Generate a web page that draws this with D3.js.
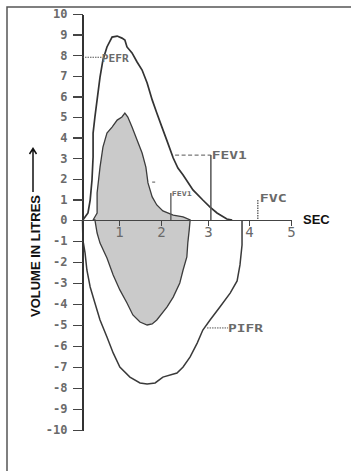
<!DOCTYPE html>
<html>
<head>
<meta charset="utf-8">
<script src="https://cdn.jsdelivr.net/npm/d3@7"></script>
<style>
  body { margin: 0; background: #fff; }
  svg { display: block; }
  .num { font-family: "DejaVu Sans Mono", monospace; fill: #6a6a6a; }
  .tag { font-family: "DejaVu Sans Mono", monospace; font-weight: bold; fill: #6a6a6a; }
</style>
</head>
<body>
<svg id="chart" width="351" height="471"></svg>
<script>
// time in seconds, volume in litres
var outerExpT = [0.01, 0.15, 0.21, 0.26, 0.29, 0.29, 0.34, 0.40, 0.48, 0.56, 0.67, 0.81, 0.95, 1.07, 1.14, 1.19, 1.31, 1.43, 1.55, 1.67, 1.79, 1.90, 2.02, 2.13, 2.26, 2.36, 2.47, 2.68, 2.89, 3.05, 3.22, 3.46, 3.59];
var outerExpV = [0, 0.34, 0.97, 1.94, 3.06, 4.22, 5.0, 5.83, 6.94, 7.77, 8.40, 8.88, 8.93, 8.83, 8.74, 8.40, 8.11, 7.67, 7.28, 6.65, 5.83, 5.19, 4.51, 3.83, 3.01, 2.52, 2.18, 1.46, 0.97, 0.63, 0.34, 0.05, 0];

var outerInsT = [0, 0.01, 0.07, 0.12, 0.21, 0.34, 0.48, 0.67, 0.84, 1.02, 1.26, 1.50, 1.67, 1.86, 2.04, 2.34, 2.47, 2.62, 2.77, 2.89, 3.05, 3.29, 3.54, 3.71, 3.78, 3.83, 3.83, 3.83];
var outerInsV = [0, -0.95, -1.57, -2.38, -3.19, -3.95, -4.76, -5.57, -6.33, -7.0, -7.48, -7.76, -7.81, -7.76, -7.48, -7.29, -7.0, -6.52, -5.86, -5.24, -4.76, -4.14, -3.48, -2.90, -2.14, -1.19, -0.1, 0];

var innerExpT = [0.29, 0.40, 0.40, 0.48, 0.56, 0.67, 0.81, 0.95, 1.07, 1.14, 1.21, 1.31, 1.43, 1.55, 1.64, 1.69, 1.79, 1.90, 2.04, 2.26, 2.47, 2.62];
var innerExpV = [0, 0.34, 1.31, 2.57, 3.54, 4.22, 4.51, 4.85, 5.0, 5.19, 5.0, 4.51, 3.88, 3.25, 2.57, 1.80, 1.12, 0.73, 0.44, 0.24, 0.15, 0];

var innerInsT = [0.34, 0.40, 0.48, 0.67, 0.84, 1.02, 1.19, 1.33, 1.50, 1.67, 1.79, 1.90, 2.13, 2.26, 2.40, 2.47, 2.55, 2.57, 2.60, 2.62];
var innerInsV = [0, -0.62, -1.10, -1.81, -2.62, -3.33, -3.95, -4.52, -4.86, -5.0, -4.95, -4.76, -4.14, -3.67, -3.0, -2.38, -1.76, -1.10, -0.48, 0];

var xTicks = [1, 2, 3, 4, 5];
var yTicks = [-10, -9, -8, -7, -6, -5, -4, -3, -2, -1, 0, 1, 2, 3, 4, 5, 6, 7, 8, 9, 10];

// markers: PEFR, FEV1, small FEV1, FVC, PIFR
var pefr = { t0: 0, t1: 0.53, v: 7.9 };
var fev1 = { t0: 2.30, t: 3.07, v: 3.15 };
var fev1Small = { t: 2.21, v: 1.31, dash0: 1.79, dash1: 1.90, dashV: 1.84 };
var fvc = { t: 4.21, v: 0.97 };
var pifr = { t0: 2.98, t1: 3.49, v: -5.14 };

var svg = d3.select("#chart");

// the x ticks are not evenly spaced on the original trace
var x = d3.scaleLinear().domain([0, 1, 2, 3, 4, 5]).range([82.5, 119, 161, 208, 249, 291]);
var y = d3.scaleLinear().domain([-10, 0, 10]).range([430, 220, 14]);

function pts(ts, vs) { return ts.map(function(t, i) { return [t, vs[i]]; }); }

var line = d3.line().x(function(d) { return x(d[0]); }).y(function(d) { return y(d[1]); });

// frame
svg.append("path")
	.attr("d", "M7,471V7H351")
	.attr("fill", "none")
	.attr("stroke", "#555")
	.attr("stroke-width", 1.5);

// small loop, filled
var innerLoop = pts(innerExpT, innerExpV).concat(pts(innerInsT, innerInsV).reverse());
svg.append("path")
	.attr("d", line(innerLoop) + "Z")
	.attr("fill", "#cacaca")
	.attr("stroke", "#3c3c3c")
	.attr("stroke-width", 1.3);

// big loop
svg.append("path")
	.attr("d", line(pts(outerExpT, outerExpV)))
	.attr("fill", "none")
	.attr("stroke", "#333")
	.attr("stroke-width", 1.7);

svg.append("path")
	.attr("d", line(pts(outerInsT, outerInsV)))
	.attr("fill", "none")
	.attr("stroke", "#3a3a3a")
	.attr("stroke-width", 1.5);

// axes
var yAxis = svg.append("g")
	.attr("transform", "translate(" + x(0) + ",0)")
	.call(d3.axisLeft(y).tickValues(yTicks).tickSize(10).tickSizeOuter(0).tickPadding(5).tickFormat(function(d) { return String(d); }));
yAxis.select(".domain").attr("stroke", "#333").attr("stroke-width", 2);
yAxis.selectAll(".tick line").attr("stroke", "#444").attr("stroke-width", 1.5);
yAxis.selectAll(".tick text")
	.attr("class", "num")
	.style("font-size", "12px")
	.style("font-weight", "bold");

var xAxis = svg.append("g")
	.attr("transform", "translate(0," + y(0) + ")")
	.call(d3.axisBottom(x).tickValues(xTicks).tickSize(6).tickSizeOuter(0).tickPadding(1).tickFormat(function(d) { return String(d); }));
xAxis.select(".domain").attr("stroke", "#444").attr("stroke-width", 1.5);
xAxis.selectAll(".tick line").attr("stroke", "#444").attr("stroke-width", 1.5);
xAxis.selectAll(".tick text")
	.attr("class", "num")
	.style("font-size", "14px");

svg.selectAll(".domain, .tick line").attr("shape-rendering", "crispEdges");

// axis titles
svg.append("text")
	.attr("x", 303)
	.attr("y", 224)
	.style("font-family", "Liberation Sans, Arial, sans-serif")
	.style("font-weight", "bold")
	.style("font-size", "13px")
	.attr("fill", "#111")
	.text("SEC");

svg.append("text")
	.attr("transform", "translate(40,256) rotate(-90)")
	.attr("text-anchor", "middle")
	.attr("textLength", 122)
	.attr("lengthAdjust", "spacingAndGlyphs")
	.style("font-family", "Liberation Sans, Arial, sans-serif")
	.style("font-weight", "bold")
	.style("font-size", "13px")
	.attr("fill", "#111")
	.text("VOLUME IN LITRES");

svg.append("path")
	.attr("d", "M33,192V149M29.5,154L33,148.5L36.5,154")
	.attr("fill", "none")
	.attr("stroke", "#111")
	.attr("stroke-width", 1.5);

// annotations
function tag(txt, px, py, size, len) {
	svg.append("text")
		.attr("class", "tag")
		.attr("x", px)
		.attr("y", py)
		.attr("textLength", len)
		.attr("lengthAdjust", "spacingAndGlyphs")
		.style("font-size", size + "px")
		.text(txt);
}

function leader(x1, y1, x2, y2, dash, w) {
	svg.append("line")
		.attr("x1", x1).attr("y1", y1).attr("x2", x2).attr("y2", y2)
		.attr("stroke", "#555")
		.attr("stroke-width", w || 1)
		.attr("stroke-dasharray", dash);
}

leader(x(pefr.t0), y(pefr.v), x(pefr.t1), y(pefr.v), "1.5,1");
tag("PEFR", x(pefr.t1), y(pefr.v) + 5, 11, 27);

leader(x(fev1.t0), y(fev1.v), x(fev1.t), y(fev1.v), "4,2.5");
leader(x(fev1.t), y(fev1.v), x(fev1.t), y(0), null, 1.5);
tag("FEV1", x(fev1.t) + 1, y(fev1.v) + 4, 10, 35);

leader(x(fev1Small.t), y(fev1Small.v), x(fev1Small.t), y(0), null, 1.3);
leader(x(fev1Small.dash0), y(fev1Small.dashV), x(fev1Small.dash1), y(fev1Small.dashV), "3,2");
tag("FEV1", x(fev1Small.t) + 1, y(fev1Small.v) + 3, 6.5, 20);

leader(x(fvc.t), y(fvc.v), x(fvc.t), y(0), "1.5,1", 1.3);
tag("FVC", x(fvc.t) + 2, y(fvc.v) + 2, 10, 27);

leader(x(pifr.t0), y(pifr.v), x(pifr.t1), y(pifr.v), "1.5,1");
tag("PIFR", x(pifr.t1), y(pifr.v) + 4, 10, 35);
</script>
</body>
</html>
